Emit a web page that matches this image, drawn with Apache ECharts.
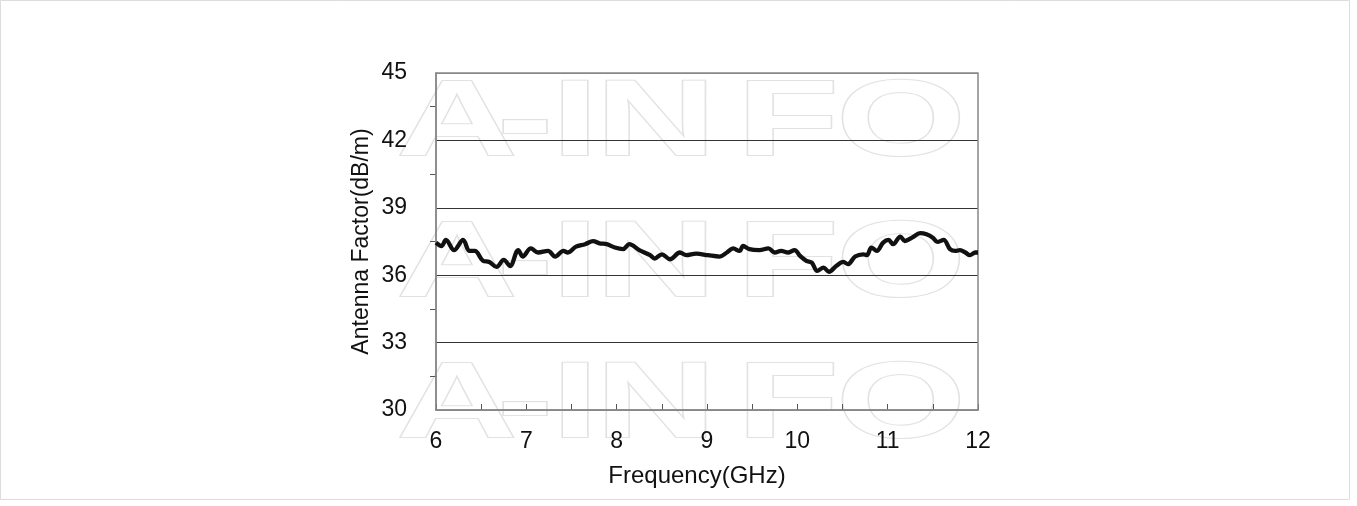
<!DOCTYPE html>
<html>
<head>
<meta charset="utf-8">
<script src="https://cdn.jsdelivr.net/npm/echarts@6/dist/echarts.min.js"></script>
<style>
html,body{margin:0;padding:0;background:#fff;}
#c{width:1357px;height:506px;}
</style>
</head>
<body>
<div id="c"></div>
<script>
const freqGHz = [6.00,6.06,6.11,6.20,6.30,6.37,6.43,6.52,6.59,6.67,6.75,6.82,6.91,6.96,7.05,7.13,7.24,7.32,7.41,7.46,7.55,7.65,7.74,7.81,7.89,7.98,8.07,8.14,8.25,8.37,8.42,8.50,8.59,8.70,8.77,8.88,9.01,9.14,9.22,9.29,9.36,9.40,9.47,9.58,9.68,9.75,9.82,9.90,9.97,10.03,10.10,10.16,10.22,10.29,10.35,10.43,10.51,10.56,10.64,10.73,10.77,10.82,10.88,10.95,11.01,11.06,11.14,11.19,11.27,11.36,11.43,11.50,11.55,11.62,11.69,11.75,11.80,11.86,11.91,11.97,12.00];
const antennaFactor = [37.45,37.30,37.57,37.12,37.57,37.08,37.08,36.64,36.59,36.37,36.68,36.41,37.12,36.83,37.19,37.01,37.08,36.83,37.08,37.01,37.27,37.38,37.52,37.42,37.38,37.23,37.16,37.38,37.12,36.89,36.74,36.93,36.71,37.01,36.89,36.96,36.89,36.83,37.01,37.19,37.08,37.30,37.16,37.12,37.19,37.01,37.08,37.01,37.12,36.86,36.64,36.56,36.19,36.34,36.15,36.41,36.59,36.49,36.83,36.93,36.89,37.23,37.08,37.45,37.57,37.38,37.72,37.52,37.67,37.87,37.82,37.67,37.48,37.57,37.16,37.08,37.12,37.01,36.89,37.01,37.01];
const xTicks = [6,7,8,9,10,11,12];
const yTicks = [30,33,36,39,42,45];
const xTitle = 'Frequency(GHz)';
const yTitle = 'Antenna Factor(dB/m)';
const watermarkLetters = ['A','-','I','N','F','O'];

const seriesData = freqGHz.map((f, i) => [f, antennaFactor[i]]);
const wmRows = [125, 266, 407];
const wmCenters = [457, 525, 575, 656, 788, 901];
const FONT = '"Liberation Sans", Arial, sans-serif';

const wmGraphics = [];
wmRows.forEach(y => {
  watermarkLetters.forEach((ch, i) => {
    wmGraphics.push({
      type: 'text', z: -5, x: wmCenters[i], y: y, scaleX: 1.55,
      style: {text: ch, font: 'bold 107px ' + FONT, fill: '#ffffff', stroke: '#e2e2e2', lineWidth: 2.1, align: 'center', verticalAlign: 'middle'}
    });
  });
});

const chart = echarts.init(document.getElementById('c'), null, {renderer: 'canvas'});
chart.setOption({
  backgroundColor: '#ffffff',
  animation: false,
  graphic: [
    {type: 'rect', z: -10, shape: {x: 0.5, y: 0.5, width: 1349, height: 499}, style: {fill: 'none', stroke: '#dddddd', lineWidth: 1}}
  ].concat(wmGraphics),
  grid: {left: 436, right: 379, top: 73, bottom: 96, show: true, borderColor: '#888888', borderWidth: 1.5, backgroundColor: 'transparent', z: 1},
  xAxis: {
    type: 'value', min: xTicks[0], max: xTicks[xTicks.length - 1], interval: 1,
    name: xTitle, nameLocation: 'middle', nameGap: 54,
    nameTextStyle: {fontSize: 24, color: '#111', fontFamily: FONT, padding: [0, 20, 0, 0]},
    axisLine: {show: true, lineStyle: {color: '#888888', width: 1.5}},
    axisTick: {show: true, inside: true, length: 6, lineStyle: {color: '#555'}},
    minorTick: {show: true, splitNumber: 2, length: 6, lineStyle: {color: '#555'}},
    axisLabel: {fontSize: 23, color: '#111', margin: 20, fontFamily: FONT},
    splitLine: {show: false}
  },
  yAxis: {
    type: 'value', min: yTicks[0], max: yTicks[yTicks.length - 1], interval: 3,
    name: yTitle, nameLocation: 'middle', nameGap: 63, nameRotate: 90,
    nameTextStyle: {fontSize: 23, color: '#111', fontFamily: FONT},
    axisLine: {show: true, lineStyle: {color: '#888888', width: 1.5}},
    axisTick: {show: false},
    minorTick: {show: true, splitNumber: 2, length: 6, lineStyle: {color: '#555'}},
    axisLabel: {fontSize: 23, color: '#111', margin: 29, fontFamily: FONT},
    splitLine: {show: true, lineStyle: {color: ['#888888', '#333333', '#333333', '#333333', '#333333', '#888888'], width: 1}}
  },
  series: [{
    type: 'line', data: seriesData, smooth: 0.35, showSymbol: false, z: 5,
    lineStyle: {color: '#111111', width: 4.3}
  }]
});
</script>
</body>
</html>
